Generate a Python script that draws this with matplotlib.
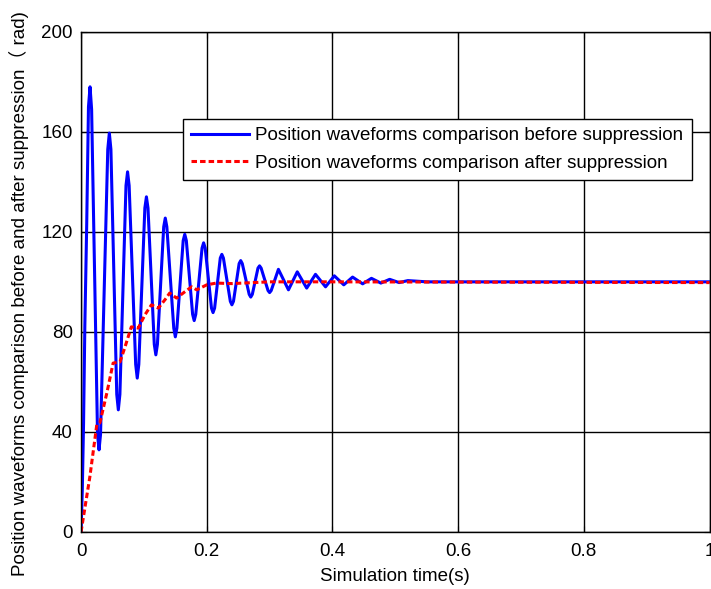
import matplotlib
matplotlib.use("Agg")
import matplotlib.pyplot as plt

plt.rcParams["font.family"] = ["Liberation Sans", "Noto Sans CJK SC", "DejaVu Sans"]

# blue curve (before suppression): rise, then rounded peaks / troughs
before_t = [0.0, 0.002, 0.004, 0.006, 0.009, 0.0118, 0.0143, 0.0168,
            0.0262, 0.0286, 0.031, 0.0425, 0.045, 0.0475,
            0.0568, 0.0593, 0.0618, 0.0715, 0.074, 0.0765,
            0.0869, 0.0894, 0.0919, 0.1015, 0.104, 0.1065,
            0.1165, 0.119, 0.1215, 0.1315, 0.134, 0.1365,
            0.1475, 0.150, 0.1525, 0.1625, 0.165, 0.1675,
            0.1775, 0.180, 0.1825, 0.1925, 0.195, 0.1975,
            0.2075, 0.210, 0.2125, 0.2215, 0.224, 0.2265,
            0.2375, 0.240, 0.2425, 0.2515, 0.254, 0.2565,
            0.2675, 0.270, 0.2725, 0.2815, 0.284, 0.2865,
            0.2975, 0.300, 0.3025, 0.314, 0.330, 0.344, 0.359, 0.373, 0.389,
            0.403, 0.418, 0.432, 0.448, 0.462, 0.477, 0.491, 0.506, 0.52,
            0.55, 0.7, 1.0]
before_v = [0.0, 17.0, 43.6, 82.0, 123.0, 170.0, 178.0, 169.0,
            39.0, 32.8, 39.0, 153.0, 159.5, 153.0,
            55.0, 48.8, 55.0, 138.5, 144.0, 138.5,
            67.0, 61.5, 67.0, 129.5, 134.0, 129.5,
            75.0, 70.8, 75.0, 122.0, 125.5, 122.0,
            81.5, 78.0, 81.5, 116.5, 119.0, 116.5,
            87.0, 84.5, 87.0, 113.5, 115.6, 113.5,
            89.5, 87.7, 89.5, 109.5, 111.0, 109.5,
            92.2, 90.8, 92.2, 107.3, 108.5, 107.3,
            95.0, 93.9, 95.0, 105.5, 106.4, 105.5,
            96.5, 95.7, 96.5, 105.0, 96.8, 104.0, 97.5, 103.0, 98.0,
            102.4, 98.8, 101.9, 99.2, 101.4, 99.5, 101.0, 99.7, 100.5,
            100.0, 100.0, 100.0]

# red dashed curve (after suppression)
after_t = [0.0, 0.014, 0.025, 0.030, 0.041, 0.051, 0.062, 0.070, 0.080, 0.091,
           0.1016, 0.112, 0.123, 0.134, 0.141, 0.152, 0.165, 0.176, 0.184, 0.200,
           0.215, 0.240, 0.300, 0.400, 1.0]
after_v = [0.0, 22.0, 42.8, 43.6, 55.5, 67.5, 68.0, 74.0, 82.0, 81.5,
           86.8, 90.8, 89.5, 93.0, 95.5, 93.5, 96.0, 98.0, 96.8, 98.8,
           99.5, 99.3, 100.0, 100.0, 99.7]

x_ticks = [0, 0.2, 0.4, 0.6, 0.8, 1.0]
x_tick_labels = ["0", "0.2", "0.4", "0.6", "0.8", "1"]
y_ticks = [0, 40, 80, 120, 160, 200]

fig = plt.figure(figsize=(7.11, 5.89), dpi=100)
ax = fig.add_axes([0.114, 0.097, 0.884, 0.849])

ax.plot(before_t, before_v, color="#0000ff", linewidth=2.2,
        label="Position waveforms comparison before suppression")
ax.plot(after_t, after_v, color="#ff0000", linewidth=2.2, linestyle="--",
        dashes=(1.8, 1.0),
        label="Position waveforms comparison after suppression")

ax.set_xlim(0, 1)
ax.set_ylim(0, 200)
ax.set_xticks(x_ticks)
ax.set_xticklabels(x_tick_labels)
ax.set_yticks(y_ticks)
ax.tick_params(direction="in", top=True, right=True, labelsize=13.5,
               length=4, pad=6)
ax.tick_params(axis="x", pad=8)
ax.grid(True, color="black", linewidth=1.0, linestyle="-")
for s in ax.spines.values():
    s.set_linewidth(1.0)

ax.set_xlabel("Simulation time(s)", fontsize=13.5, labelpad=6)
ax.set_ylabel("Position waveforms comparison before and after suppression（ rad)",
              fontsize=13.5)
ax.yaxis.set_label_coords(-0.083, 0.476)

leg = ax.legend(loc="upper left", bbox_to_anchor=(0.162, 0.826), fontsize=13.5,
                handlelength=3.1, handletextpad=0.3, labelspacing=0.55,
                borderpad=0.45, borderaxespad=0, fancybox=False, framealpha=1,
                edgecolor="black")
leg.get_frame().set_linewidth(1.0)

fig.savefig("out.png", dpi=100)
